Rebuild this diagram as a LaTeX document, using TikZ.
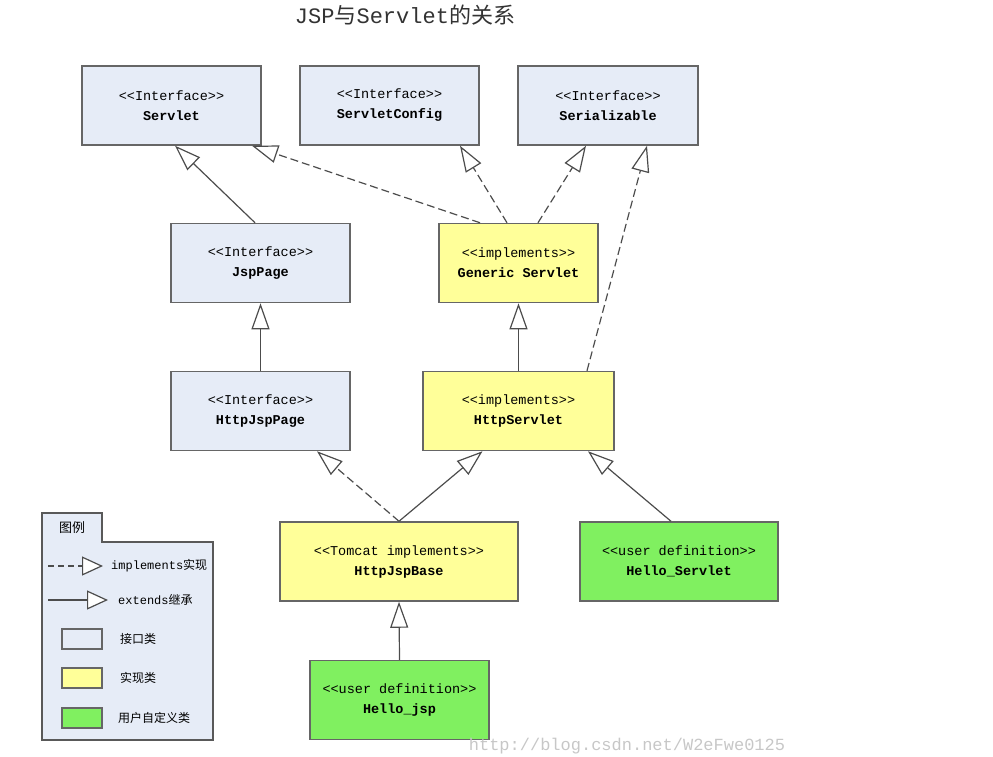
\documentclass[tikz,border=0pt]{standalone}
\usepackage{fontspec}
\setmainfont{Liberation Mono}
\newfontfamily\cjk{Noto Sans CJK SC}
\usetikzlibrary{arrows.meta,calc}
\definecolor{ifblue}{RGB}{230,236,247}
\definecolor{implyellow}{RGB}{255,255,153}
\definecolor{usergreen}{RGB}{128,240,96}
\newcommand{\stereo}[2]{<{}<#1>{}>\\\textbf{#2}}

\begin{document}
\begin{tikzpicture}[x=1pt,y=-1pt,
	box/.style={draw=black!60, line width=1.5pt, minimum height=79pt, inner sep=0pt,
		align=center, font=\fontsize{13.5}{20}\selectfont},
	iface/.style={box, fill=ifblue},
	impl/.style={box, fill=implyellow},
	user/.style={box, fill=usergreen},
	inherit/.style={draw=black!70, line width=1.2pt,
		-{Triangle[length=26pt, width=18pt, fill=white]}},
	realize/.style={inherit, dash pattern=on 8pt off 4pt},
	lgbox/.style={draw=black!60, line width=1.5pt, minimum width=40pt, minimum height=20pt, inner sep=0pt},
	lgtext/.style={anchor=west, inner sep=0pt, font=\fontsize{12}{14}\selectfont}]
	\useasboundingbox (0,0) rectangle (993,756);
	
	\node[text=black!80, font=\fontsize{22}{26}\selectfont] (title) at (405,15) {JSP{\cjk 与}Servlet{\cjk 的关系}};
	
	\node[iface, minimum width=179pt] (servlet) at (171.5,105.5) {\stereo{Interface}{Servlet}};
	\node[iface, minimum width=179pt] (servletconfig) at (389.5,105.5) {\stereo{Interface}{ServletConfig}};
	\node[iface, minimum width=180pt] (serializable) at (608,105.5) {\stereo{Interface}{Serializable}};
	
	\node[iface, minimum width=179pt] (jsppage) at (260.5,263) {\stereo{Interface}{JspPage}};
	\node[impl, minimum width=159pt] (generic) at (518.5,263) {\stereo{implements}{Generic Servlet}};
	
	\node[iface, minimum width=179pt] (httpjsppage) at (260.5,411) {\stereo{Interface}{HttpJspPage}};
	\node[impl, minimum width=191pt] (httpservlet) at (518.5,411) {\stereo{implements}{HttpServlet}};
	
	\node[impl, minimum width=238pt] (httpjspbase) at (399,561.5) {\stereo{Tomcat implements}{HttpJspBase}};
	\node[user, minimum width=198pt] (hellosrv) at (679,561.5) {\stereo{user definition}{Hello\_Servlet}};
	
	\node[user, minimum width=179pt] (hellojsp) at (399.5,700) {\stereo{user definition}{Hello\_jsp}};
	
	% extends / implements
	\draw[inherit] ($(jsppage.north)+(-5.5,0)$) -- ($(servlet.south)+(3.5,0)$);
	\draw[realize] ($(generic.north)+(-38.5,0)$) -- ($(servlet.south)+(80.5,0)$);
	\draw[realize] ($(generic.north)+(-11.5,0)$) -- ($(servletconfig.south)+(70.5,0)$);
	\draw[realize] ($(generic.north)+(19.5,0)$) -- ($(serializable.south)+(-22,0)$);
	\draw[realize] ($(httpservlet.north)+(68.5,0)$) -- ($(serializable.south)+(39,0)$);
	\draw[inherit] (httpjsppage.north) -- (jsppage.south);
	\draw[inherit] (httpservlet.north) -- (generic.south);
	\draw[realize] (httpjspbase.north) -- ($(httpjsppage.south)+(56.5,0)$);
	\draw[inherit] (httpjspbase.north) -- ($(httpservlet.south)+(-36,0)$);
	\draw[inherit] ($(hellosrv.north)+(-8,0)$) -- ($(httpservlet.south)+(69.5,0)$);
	\draw[inherit] (hellojsp.north) -- (httpjspbase.south);
	
	% legend
	\draw[fill=ifblue, draw=black!65, line width=1.5pt] (42,513) -- (102,513) -- (102,542)
		-- (213,542) -- (213,740) -- (42,740) -- cycle;
	\node[font=\cjk\fontsize{13}{15}\selectfont] (lgtitle) at (72,528) {图例};
	\coordinate (lgR0) at (48,566);
	\coordinate (lgR1) at (103,566);
	\draw[realize, dash pattern=on 6pt off 4pt, -{Triangle[length=21pt, width=19pt, fill=white]}] (lgR0) -- (lgR1);
	\node[lgtext] (lgreal) at (111,566) {implements{\cjk 实现}};
	\coordinate (lgE0) at (48,600);
	\coordinate (lgE1) at (108,600);
	\draw[inherit, -{Triangle[length=21pt, width=19pt, fill=white]}] (lgE0) -- (lgE1);
	\node[lgtext] (lgext) at (118,600) {extends{\cjk 继承}};
	\node[lgbox, fill=ifblue] (lgiface) at (82,639) {};
	\node[lgtext] (lgifacetext) at (120,639) {\cjk 接口类};
	\node[lgbox, fill=implyellow] (lgimpl) at (82,678) {};
	\node[lgtext] (lgimpltext) at (120,678) {\cjk 实现类};
	\node[lgbox, fill=usergreen] (lguser) at (82,718) {};
	\node[lgtext] (lgusertext) at (118,718) {\cjk 用户自定义类};
	
	\node[text=black!22, font=\fontsize{17}{17}\selectfont] (mark) at (627,746) {http://blog.csdn.net/W2eFwe0125};
\end{tikzpicture}
\end{document}
